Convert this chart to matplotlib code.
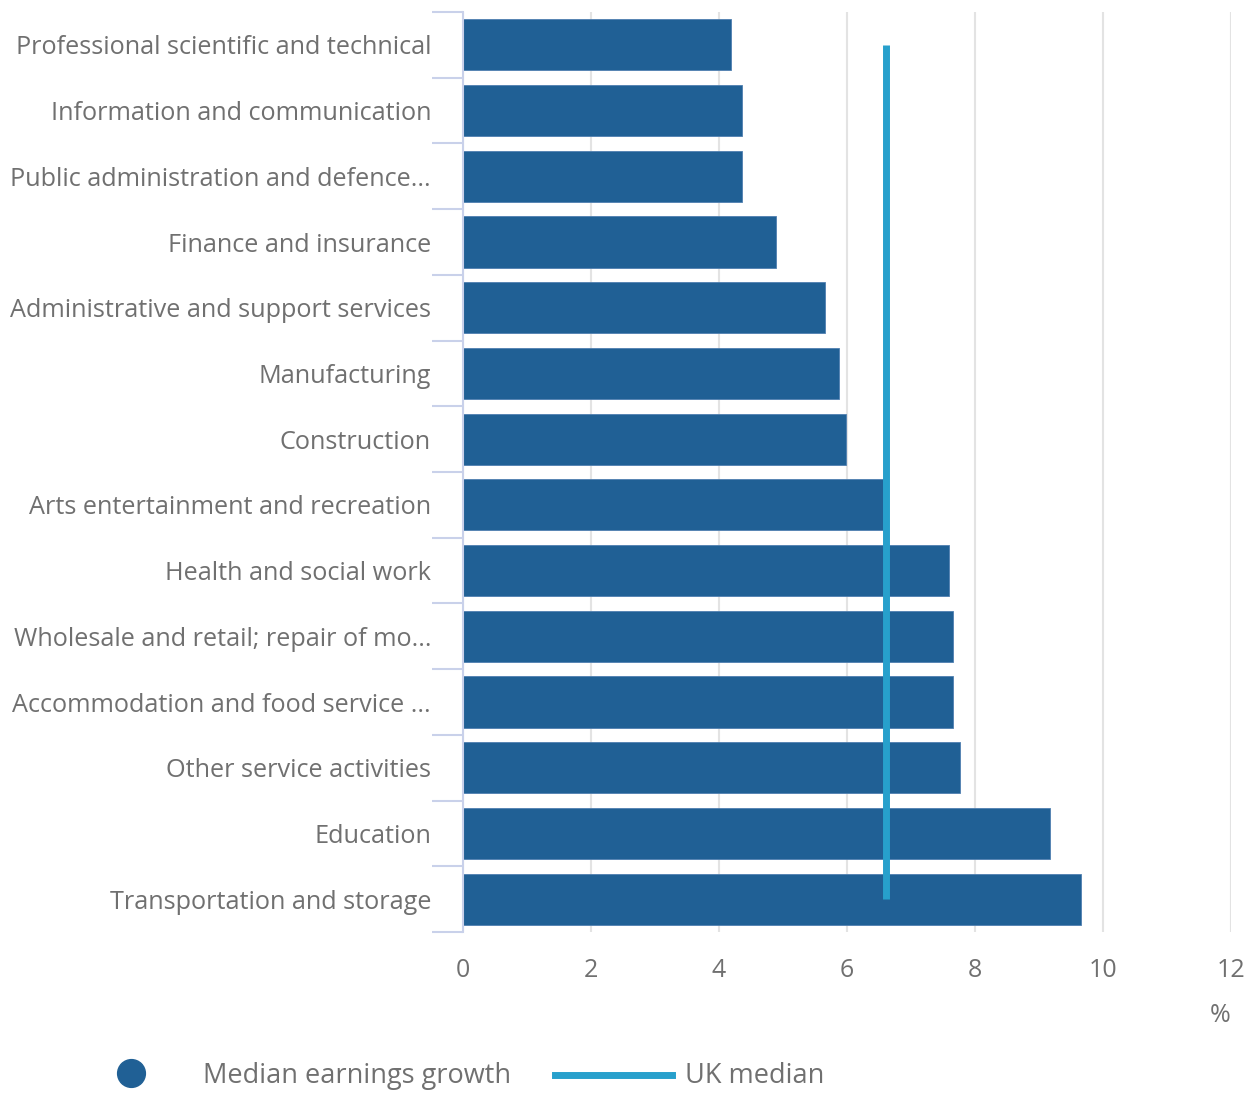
import matplotlib.pyplot as plt
from matplotlib.lines import Line2D

industries = [
    "Professional scientific and technical",
    "Information and communication",
    "Public administration and defence...",
    "Finance and insurance",
    "Administrative and support services",
    "Manufacturing",
    "Construction",
    "Arts entertainment and recreation",
    "Health and social work",
    "Wholesale and retail; repair of mo...",
    "Accommodation and food service ...",
    "Other service activities",
    "Education",
    "Transportation and storage",
]
growth = [4.19, 4.36, 4.36, 4.89, 5.66, 5.88, 5.98, 6.56, 7.59, 7.66, 7.66, 7.77, 9.17, 9.66]
uk_median = 6.61
xticks = [0, 2, 4, 6, 8, 10, 12]

bar_col = "#206095"
line_col = "#27a0cc"
text_col = "#707070"
axis_col = "#c9d1ea"

plt.rcParams['font.family'] = ['Open Sans', 'DejaVu Sans']

W, H = 1255, 1093
fig = plt.figure(figsize=(W / 100, H / 100), dpi=100)
ax = fig.add_axes([463 / W, 1 - 932 / H, 768 / W, 920 / H])

n = len(industries)
ypos = list(range(n))
ax.barh(ypos, growth, height=0.78, color=bar_col, edgecolor="#4f7fb0", linewidth=0.6, zorder=2)
ax.plot([uk_median, uk_median], [0, n - 1], color=line_col, linewidth=5, zorder=3,
        solid_capstyle="butt")

ax.set_ylim(n - 0.5, -0.5)
ax.set_xlim(0, 12)
ax.set_xticks(xticks)
ax.set_xticklabels([str(t) for t in xticks])
ax.grid(axis="x", color="#e3e3e3", linewidth=1.5, zorder=0)
ax.tick_params(axis="x", length=0, pad=19, labelsize=18, labelcolor=text_col)

# category labels centred, tick marks on the boundaries
ax.set_yticks(ypos)
ax.set_yticklabels(industries)
ax.tick_params(axis="y", which="major", length=0, pad=23, labelsize=18.2, labelcolor=text_col)
ax.set_yticks([i - 0.5 for i in range(n + 1)], minor=True)
ax.tick_params(axis="y", which="minor", length=22, width=1.5, color=axis_col)

for s in ["top", "right", "bottom"]:
    ax.spines[s].set_visible(False)
ax.spines["left"].set_color(axis_col)
ax.spines["left"].set_linewidth(1.5)

fig.text(1220 / W, 1 - 1015 / H, "%", ha="center", va="center", fontsize=18, color=text_col)

# legend drawn in figure coordinates
ly = 1 - 1076 / H
fig.add_artist(Line2D([131 / W], [1 - 1073 / H], marker="o", markersize=20, color=bar_col,
                      linestyle="none", transform=fig.transFigure))
fig.text(203 / W, ly, "Median earnings growth", ha="left", va="center", fontsize=19.5,
         color=text_col)
fig.add_artist(Line2D([555 / W, 672 / W], [1 - 1075 / H] * 2, color=line_col, linewidth=5,
                      transform=fig.transFigure))
fig.text(685 / W, ly, "UK median", ha="left", va="center", fontsize=19.5, color=text_col)

fig.savefig("out.png", dpi=100)
